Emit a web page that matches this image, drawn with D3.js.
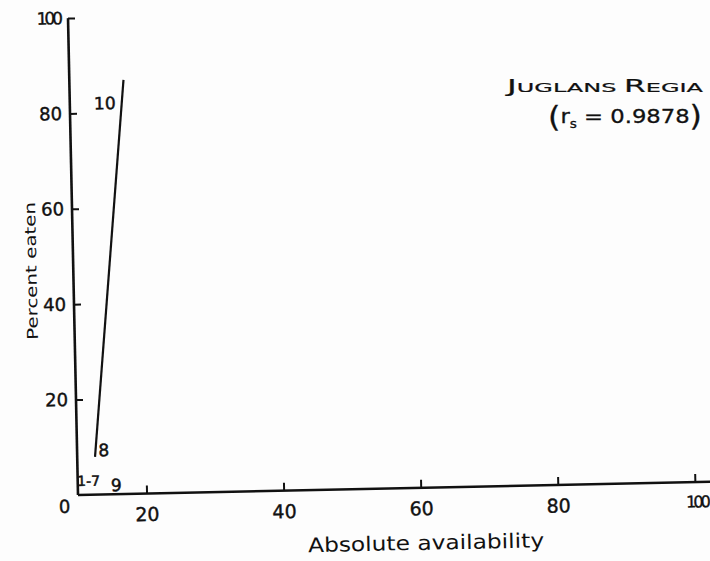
<!DOCTYPE html>
<html><head><meta charset="utf-8">
<script src="https://cdn.jsdelivr.net/npm/d3@7"></script>
<style>
body{margin:0;background:#fff;}
svg{display:block;}
text{font-family:"DejaVu Sans",sans-serif;fill:#111;}
</style></head>
<body>
<script>
// Data
const xTicks = [20, 40, 60, 80, 100];
const yTicks = [0, 20, 40, 60, 80, 100];
const xDomain = [10, 100];
const yDomain = [0, 100];
// fitted regression line end points (absolute availability, percent eaten)
const lineX = [12.6, 17.9];
const lineY = [7.9, 86.8];
// point labels (observation numbers)
const pointLabels = ["1-7", "8", "9", "10"];
const pointX = [11.6, 13.9, 15.6, 15.1];
const pointY = [2.9, 9.3, 1.9, 82];

const W = 710, H = 561;
const svg = d3.select("body").append("svg").attr("width", W).attr("height", H);
svg.append("rect").attr("width", W).attr("height", H).attr("fill", "#fdfdfd");

const g = svg.append("g").attr("transform", "translate(78,495) rotate(-1.2)");
const x = d3.scaleLinear().domain(xDomain).range([0, 617]);
const y = d3.scaleLinear().domain(yDomain).range([0, -477]);

// X axis (ticks pointing up, inside)
const xAxis = d3.axisBottom(x).tickValues(xTicks).tickSize(-8).tickPadding(14).tickFormat(d3.format("d"));
const xa = g.append("g").call(xAxis);
xa.select(".domain").remove();
xa.append("line").attr("x1", x(10)).attr("x2", x(104)).attr("y1", 0).attr("y2", 0)
  .attr("stroke", "#111").attr("stroke-width", 2.6);
xa.selectAll(".tick line").attr("stroke", "#111").attr("stroke-width", 2);
xa.selectAll(".tick text").attr("font-size", 19).attr("fill", "#111").attr("stroke", "#111").attr("stroke-width", 0.4);
xa.selectAll(".tick").filter(d => d === 100).select("text")
  .attr("letter-spacing", -3).attr("font-size", 16).attr("text-anchor", "end").attr("x", 12);

// Y axis (ticks pointing inward)
const yAxis = d3.axisLeft(y).tickValues(yTicks).tickSize(-7).tickPadding(8).tickFormat(d3.format("d"));
const ya = g.append("g").call(yAxis);
ya.select(".domain").remove();
ya.append("line").attr("x1", 0).attr("x2", 0).attr("y1", y(0)).attr("y2", y(100))
  .attr("stroke", "#111").attr("stroke-width", 2.6);
ya.selectAll(".tick line").attr("stroke", "#111").attr("stroke-width", 2);
ya.selectAll(".tick text").attr("font-size", 18).attr("fill", "#111").attr("stroke", "#111").attr("stroke-width", 0.4);
ya.selectAll(".tick").filter(d => d === 0).select("text").attr("dy", "0.95em").attr("x", -8);
ya.selectAll(".tick").filter(d => d === 0).select("line").remove();
ya.selectAll(".tick").filter(d => d === 100).select("text").attr("letter-spacing", -3).attr("font-size", 17);

// regression line
g.append("line")
  .attr("x1", x(lineX[0])).attr("y1", y(lineY[0]))
  .attr("x2", x(lineX[1])).attr("y2", y(lineY[1]))
  .attr("stroke", "#111").attr("stroke-width", 2.2);

// point labels
g.selectAll("text.pl").data(pointLabels).join("text").attr("class", "pl")
  .attr("x", (d, i) => x(pointX[i])).attr("y", (d, i) => y(pointY[i]))
  .attr("text-anchor", "middle").attr("dy", "0.35em")
  .attr("font-size", (d, i) => i === 0 ? 14 : 17)
  .attr("stroke", "#111").attr("stroke-width", 0.5)
  .text(d => d);

// axis titles
g.append("text").attr("x", 347).attr("y", 62).attr("text-anchor", "middle")
  .attr("font-size", 20).attr("textLength", 236).attr("lengthAdjust", "spacingAndGlyphs")
  .text("Absolute availability");
g.append("text").attr("transform", "translate(-42,-225) rotate(-90)").attr("text-anchor", "middle")
  .attr("dy", "0.35em").attr("font-size", 15).attr("textLength", 138).attr("lengthAdjust", "spacingAndGlyphs")
  .text("Percent eaten");

// annotation
const ann = svg.append("text").attr("x", 507).attr("y", 92).attr("font-size", 13).attr("stroke", "#111").attr("stroke-width", 0.2)
  .attr("textLength", 196).attr("lengthAdjust", "spacingAndGlyphs");
[["J",18],["UGLANS ",13],["R",17],["EGIA",13]].forEach(([t, s]) => ann.append("tspan").attr("font-size", s).text(t));
const ann2 = svg.append("text").attr("x", 548).attr("y", 124).attr("font-size", 20).attr("stroke", "#111").attr("stroke-width", 0.3)
  .attr("textLength", 154).attr("lengthAdjust", "spacingAndGlyphs");
ann2.append("tspan").attr("font-size", 28).attr("dy", 3).text("(");
ann2.append("tspan").attr("font-size", 20).attr("dy", -4).text("r");
ann2.append("tspan").attr("font-size", 12).attr("dy", 5).text("s");
ann2.append("tspan").attr("font-size", 20).attr("dy", -5).text(" = 0.9878");
ann2.append("tspan").attr("font-size", 28).attr("dy", 3).text(")");
</script>
</body></html>
